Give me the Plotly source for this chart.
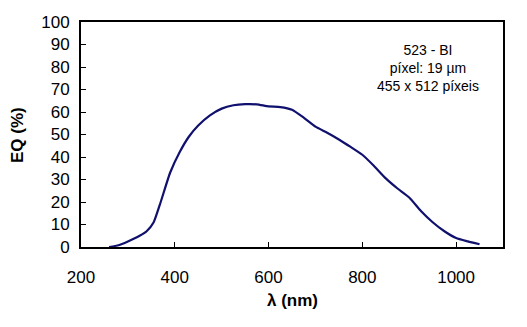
import plotly.graph_objects as go

wavelength_nm = [260, 280, 300, 325, 340, 355, 370, 390, 410, 430, 450, 475, 500,
                 525, 550, 575, 600, 625, 650, 675, 700, 725, 750, 775, 800, 825,
                 850, 875, 900, 925, 950, 975, 1000, 1025, 1050]
eq_percent = [0, 0.8, 2.5, 5, 7, 11, 20, 33, 42, 49, 54, 58.5, 61.5,
              63, 63.5, 63.4, 62.5, 62.2, 61, 57.5, 53.5, 50.8, 47.8, 44.5, 41, 36,
              30.5, 26, 22, 16, 11, 7, 4, 2.5, 1.2]
info_lines = ["523 - BI", "píxel: 19 µm", "455 x 512 píxeis"]

FONT = "Liberation Sans, Arial, sans-serif"
L, R, T, B, W, H = 81, 24, 22, 80, 527, 327
pw, ph = W - L - R, H - T - B


def px2paper(px, py):
    return (px - L) / pw, (H - B - py) / ph


fig = go.Figure()
fig.add_trace(go.Scatter(x=wavelength_nm, y=eq_percent, mode="lines",
                         line=dict(color="#10106e", width=2.2, shape="spline", smoothing=0.5),
                         showlegend=False, hoverinfo="skip"))

ax, ay = px2paper(17, 135)
bx, by = px2paper(292, 300)
cx, cy = px2paper(428, 68)

fig.update_layout(
    width=W, height=H,
    margin=dict(l=L, r=R, t=T, b=B),
    paper_bgcolor="white", plot_bgcolor="white",
    font=dict(family=FONT, size=17, color="black"),
    xaxis=dict(range=[200, 1100], tick0=200, dtick=200, showgrid=False, zeroline=False,
               showline=True, linecolor="black", linewidth=2, mirror=True,
               ticks="inside", ticklen=5, tickwidth=1, tickcolor="black",
               ticklabelstandoff=14, tickfont=dict(size=17, family=FONT)),
    yaxis=dict(range=[0, 100], tick0=0, dtick=10, showgrid=False, zeroline=False,
               showline=True, linecolor="black", linewidth=2, mirror=True,
               ticks="inside", ticklen=5, tickwidth=1, tickcolor="black",
               ticklabelstandoff=6, tickfont=dict(size=17, family=FONT)),
    annotations=[
        dict(text="<b>EQ (%)</b>", x=ax, y=ay, xref="paper", yref="paper",
             xanchor="center", yanchor="middle",
             showarrow=False, textangle=-90, font=dict(size=17, family=FONT)),
        dict(text="<b>λ (nm)</b>", x=bx, y=by, xref="paper", yref="paper",
             xanchor="center", yanchor="middle", showarrow=False,
             font=dict(size=17, family=FONT)),
        dict(text="<br>".join(info_lines), x=cx, y=cy, xref="paper", yref="paper",
             xanchor="center", yanchor="middle", showarrow=False,
             font=dict(size=14, family=FONT), align="center"),
    ],
)

fig.write_html("out.html")
